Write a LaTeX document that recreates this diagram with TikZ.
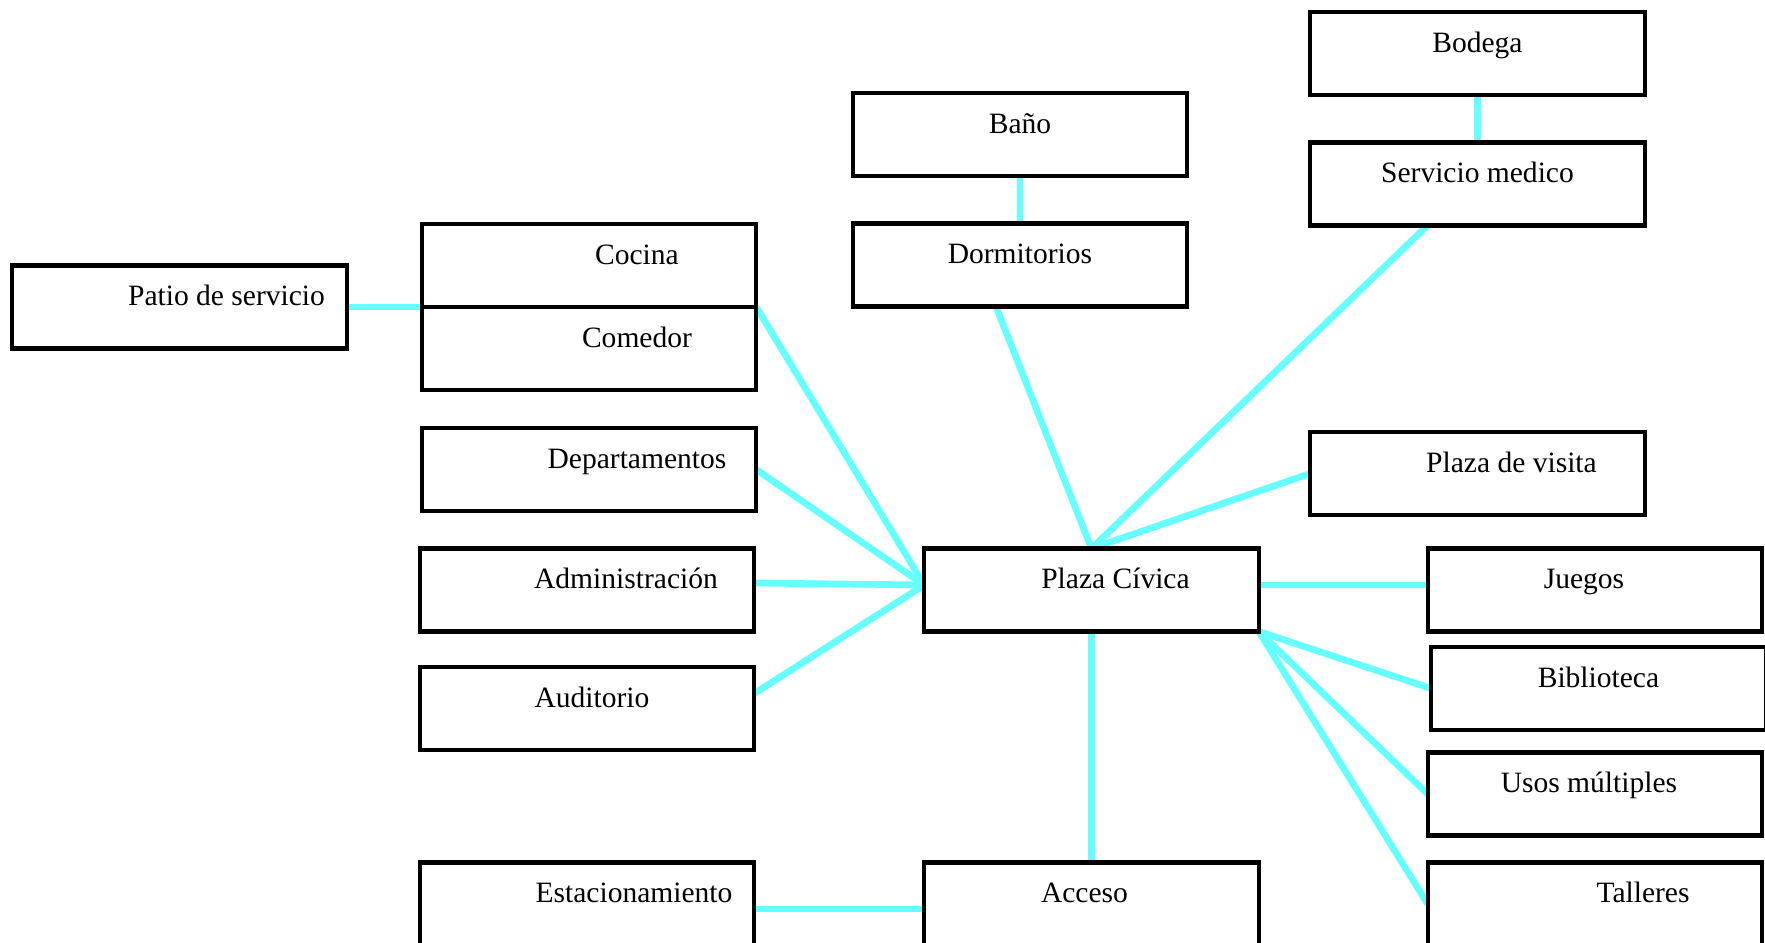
\documentclass[tikz,border=0pt]{standalone}
\usepackage{fontspec}
\setmainfont{Liberation Serif}
\usepackage{tikz}
\usetikzlibrary{positioning,backgrounds}
\definecolor{lcyan}{RGB}{102,255,255}

\begin{document}
\begin{tikzpicture}[
node distance= 0.75cm and 3.4cm,
box/.style  = {draw, line width=2.3pt, fill=white, outer sep=0pt,
               minimum width=6.69cm, minimum height=1.66cm,
               inner ysep=0pt, text height=0.81cm, text depth=0.85cm,
               font=\fontsize{16.8}{20}\selectfont},
Link/.style = {line width=3.8pt, draw=lcyan},
                    ]
\useasboundingbox (-21.83,-7.06) rectangle (13.47,11.8);

\node[box]                              (plaza)    {\hspace*{0.96cm}Plaza Cívica};
\node[box,left=of plaza]                (admin)    {\hspace*{1.56cm}Administración};
\node[box,above=of admin, xshift=0.04cm] (dept)    {\hspace*{1.92cm}Departamentos};
\node[box,below=0.71cm of admin]        (audit)    {\hspace*{0.2cm}Auditorio};
\node[box,above=0.76cm of dept]         (comedor)  {\hspace*{1.92cm}Comedor};
\node[box,above=0pt of comedor]         (cocina)   {\hspace*{1.92cm}Cocina};
\node[box,left=1.5cm of cocina.south west] (patio) {\hspace*{1.88cm}Patio de servicio};

\node[box,above=4.84cm of plaza, xshift=-1.43cm] (dorm) {Dormitorios};
\node[box,above=0.95cm of dorm]         (bano)     {Baño};

\node[box,right=1.03cm of plaza, yshift=2.33cm]  (visita) {\hspace*{1.36cm}Plaza de visita};
\node[box,above=4.13cm of visita]       (servicio) {Servicio medico};
\node[box,above=0.95cm of servicio]     (bodega)   {Bodega};

\node[box,right=3.38cm of plaza]        (juegos)   {Juegos\hspace*{0.44cm}};
\node[box,below=0.31cm of juegos, xshift=0.07cm] (biblio) {Biblioteca};
\node[box,below=2.42cm of juegos]       (usos)     {Usos múltiples\hspace*{0.24cm}};
\node[box,below=0.54cm of usos]         (talleres) {\hspace*{1.92cm}Talleres};

\node[box,below=4.62cm of plaza]        (acceso)   {Acceso\hspace*{0.28cm}};
\node[box,left=of acceso]               (estac)    {\hspace*{1.88cm}Estacionamiento};

\begin{scope}[on background layer]
\draw[Link]    (patio.east) -- (cocina.south west);
\draw[Link]    (cocina.south east) -- ([yshift=0.1cm]plaza.west);
\draw[Link]    (dept.east) -- ([yshift=0.1cm]plaza.west);
\draw[Link]    ([yshift=0.14cm]admin.east) -- ([yshift=0.1cm]plaza.west);
\draw[Link]    ([yshift=0.3cm]audit.east) -- ([yshift=0.1cm]plaza.west);
\draw[Link]    (bano) -- (dorm);
\draw[Link]    ([xshift=-0.48cm]dorm.south) -- (plaza.north);
\draw[Link]    (bodega) -- (servicio);
\draw[Link]    ([xshift=-1cm]servicio.south) -- (plaza.north);
\draw[Link]    (visita.west) -- (plaza.north);
\draw[Link]    ([yshift=0.1cm]plaza.east) -- ([yshift=0.1cm]juegos.west);
\draw[Link]    (plaza.south east) -- (biblio.west);
\draw[Link]    (plaza.south east) -- (usos.west);
\draw[Link]    (plaza.south east) -- (talleres.west);
\draw[Link]    (plaza.south) -- (acceso.north);
\draw[Link]    ([yshift=-0.1cm]estac.east) -- ([yshift=-0.1cm]acceso.west);
\end{scope}
\end{tikzpicture}
\end{document}
